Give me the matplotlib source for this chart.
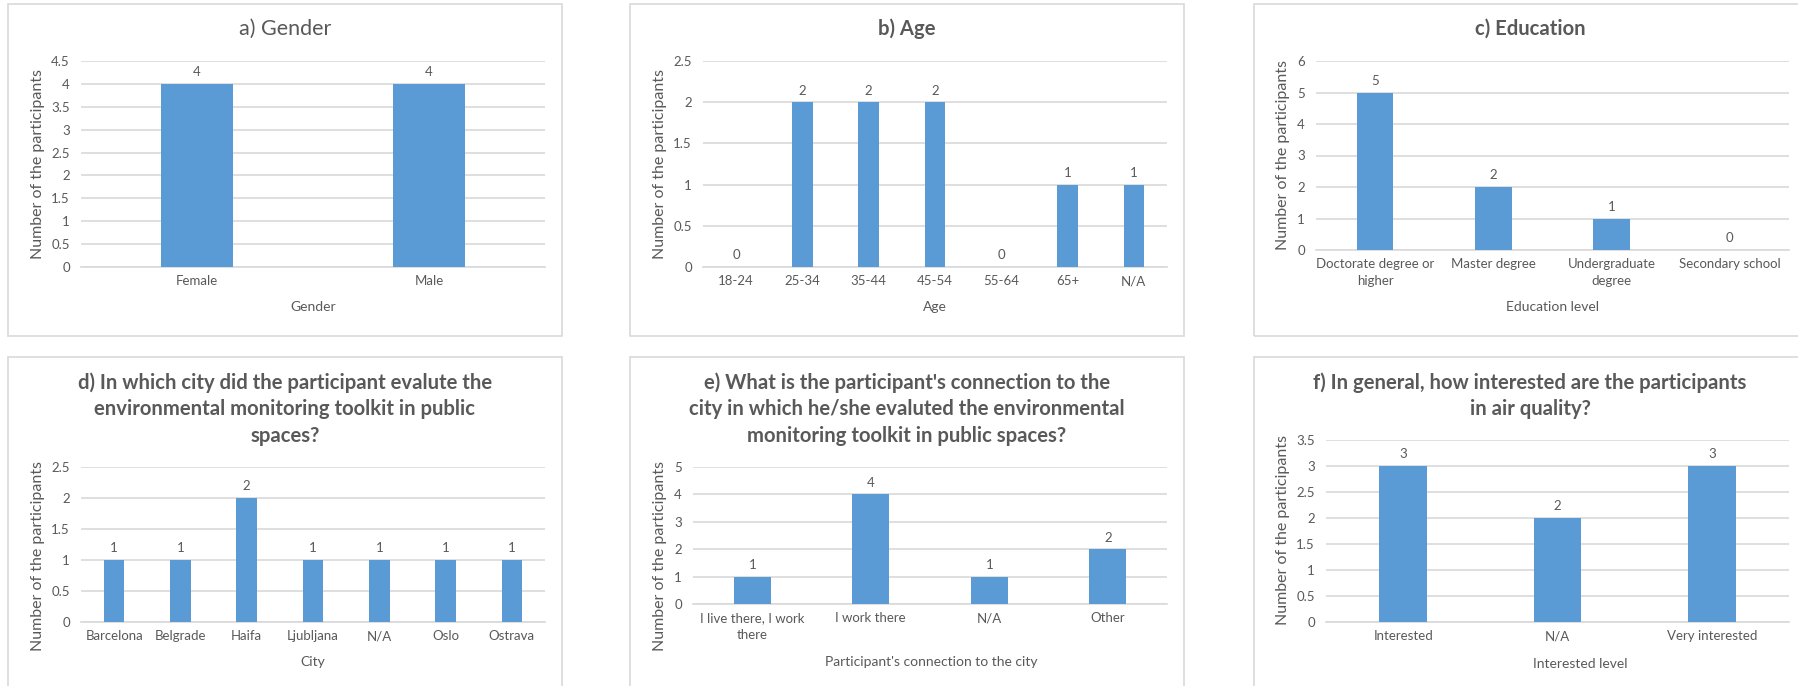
import matplotlib.pyplot as plt
import numpy as np
from matplotlib.patches import Rectangle
from matplotlib.ticker import FuncFormatter

W, H = 1798, 686
plt.rcParams['font.family'] = ['Lato', 'DejaVu Sans']

TEXT = '#595959'
GRID = '#D9D9D9'
BAR = '#5B9BD5'

gender_cats = ['Female', 'Male']
gender_vals = [4, 4]
age_cats = ['18-24', '25-34', '35-44', '45-54', '55-64', '65+', 'N/A']
age_vals = [0, 2, 2, 2, 0, 1, 1]
edu_cats = ['Doctorate degree or\nhigher', 'Master degree', 'Undergraduate\ndegree', 'Secondary school']
edu_vals = [5, 2, 1, 0]
city_cats = ['Barcelona', 'Belgrade', 'Haifa', 'Ljubljana', 'N/A', 'Oslo', 'Ostrava']
city_vals = [1, 1, 2, 1, 1, 1, 1]
conn_cats = ['I live there, I work\nthere', 'I work there', 'N/A', 'Other']
conn_vals = [1, 4, 1, 2]
interest_cats = ['Interested', 'N/A', 'Very interested']
interest_vals = [3, 2, 3]

fig = plt.figure(figsize=(W / 100, H / 100), dpi=100)


def fx(x):
    return x / W


def fy(y):
    return 1 - y / H


# one dict per panel: box, plot area (pixels), axis scale, titles
panels = [
    dict(cats=gender_cats, vals=gender_vals, title='a) Gender', bold=False, ty=29, tx=285,
         box=(8, 4, 562, 336), plot=(81, 61, 545, 267), ymax=4.5, step=0.5,
         xlabel='Gender', xl=(313, 307), yl=(38, 164)),
    dict(cats=age_cats, vals=age_vals, title='b) Age', bold=True, ty=29, tx=907,
         box=(630, 4, 1184, 336), plot=(703, 61, 1167, 267), ymax=2.5, step=0.5,
         xlabel='Age', xl=(935, 307), yl=(660, 164)),
    dict(cats=edu_cats, vals=edu_vals, title='c) Education', bold=True, ty=29, tx=1530,
         box=(1254, 4, 1810, 336), plot=(1316, 61, 1789, 250), ymax=6, step=1,
         xlabel='Education level', xl=(1553, 307), yl=(1283, 155)),
    dict(cats=city_cats, vals=city_vals,
         title='d) In which city did the participant evalute the\nenvironmental monitoring toolkit in public\nspaces?',
         bold=True, ty=409, tx=285,
         box=(8, 357, 562, 700), plot=(81, 467, 545, 622), ymax=2.5, step=0.5,
         xlabel='City', xl=(313, 662), yl=(38, 556)),
    dict(cats=conn_cats, vals=conn_vals,
         title="e) What is the participant's connection to the\ncity in which he/she evaluted the environmental\nmonitoring toolkit in public spaces?",
         bold=True, ty=409, tx=907,
         box=(630, 357, 1184, 700), plot=(693, 467, 1167, 604), ymax=5, step=1,
         xlabel="Participant's connection to the city", xl=(931, 662), yl=(660, 556)),
    dict(cats=interest_cats, vals=interest_vals,
         title='f) In general, how interested are the participants\nin air quality?',
         bold=True, ty=396, tx=1530,
         box=(1254, 357, 1810, 700), plot=(1326, 440, 1789, 622), ymax=3.5, step=0.5,
         xlabel='Interested level', xl=(1580, 664), yl=(1283, 530)),
]

for p in panels:
    bx0, by0, bx1, by1 = p['box']
    fig.patches.append(Rectangle((fx(bx0), fy(by1)), fx(bx1 - bx0), (by1 - by0) / H,
                                 transform=fig.transFigure, fill=False,
                                 edgecolor=GRID, lw=1.2, zorder=0))

    x0, y0, x1, y1 = p['plot']
    ax = fig.add_axes([fx(x0), fy(y1), fx(x1 - x0), (y1 - y0) / H])
    pos = np.arange(len(p['cats']))
    bars = ax.bar(pos, p['vals'], width=0.31, color=BAR, zorder=3)
    ax.bar_label(bars, padding=4, color=TEXT, fontsize=9.5)

    ax.set_xlim(-0.5, len(p['cats']) - 0.5)
    ax.set_ylim(0, p['ymax'])
    ax.set_yticks(np.arange(0, p['ymax'] + p['step'] / 2, p['step']))
    ax.yaxis.set_major_formatter(FuncFormatter(lambda v, _: f'{v:g}'))
    ax.set_xticks(pos)
    ax.set_xticklabels(p['cats'], linespacing=1.45)
    ax.tick_params(axis='both', length=0, labelsize=9.5, labelcolor=TEXT)
    ax.tick_params(axis='y', pad=8)
    ax.tick_params(axis='x', pad=6)
    ax.grid(axis='y', color=GRID, lw=1.2, zorder=0)
    for s in ['top', 'right', 'left']:
        ax.spines[s].set_visible(False)
    ax.spines['bottom'].set_color(GRID)
    ax.spines['bottom'].set_linewidth(1.2)

    fig.text(fx(p['tx']), fy(p['ty']), p['title'], ha='center', va='center',
             fontsize=14.6 if p['bold'] else 15.5, color=TEXT,
             fontweight='bold' if p['bold'] else 'normal', linespacing=1.4)
    fig.text(fx(p['xl'][0]), fy(p['xl'][1]), p['xlabel'], ha='center', va='center',
             fontsize=10, color=TEXT)
    fig.text(fx(p['yl'][0]), fy(p['yl'][1]), 'Number of the participants', ha='center',
             va='center', rotation=90, fontsize=11.5, color=TEXT)

fig.savefig('out.png', dpi=100, facecolor='white')
